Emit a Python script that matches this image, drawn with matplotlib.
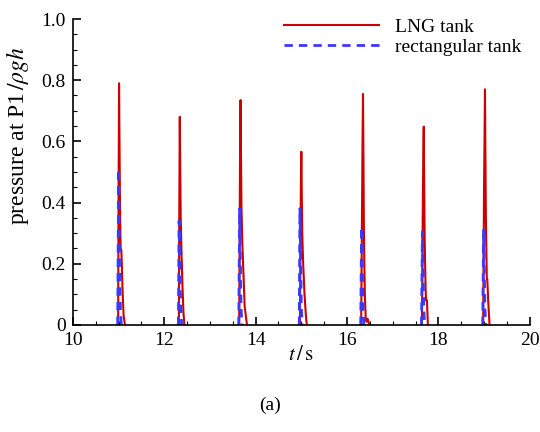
import numpy as np
import matplotlib
matplotlib.use("Agg")
import matplotlib.pyplot as plt
from matplotlib.ticker import MultipleLocator

plt.rcParams["font.family"] = ["Liberation Serif", "DejaVu Serif"]
plt.rcParams["mathtext.fontset"] = "stix"

# Impact pressure pulses at P1 (one list of times / values per slam event)
lng_times = [
    [10.99, 11.00, 11.005, 11.01, 11.02, 11.03, 11.045, 11.06, 11.07, 11.09, 11.11, 11.14],
    [12.32, 12.33, 12.335, 12.34, 12.35, 12.36, 12.38, 12.40, 12.42, 12.44],
    [13.64, 13.655, 13.66, 13.67, 13.68, 13.69, 13.71, 13.73, 13.76, 13.81],
    [14.97, 14.985, 14.99, 15.00, 15.01, 15.02, 15.04, 15.07, 15.10, 15.12],
    [16.31, 16.33, 16.34, 16.35, 16.36, 16.37, 16.39, 16.41, 16.43, 16.45, 16.48, 16.51],
    [17.64, 17.66, 17.67, 17.68, 17.69, 17.70, 17.72, 17.73, 17.75, 17.77],
    [18.98, 19.00, 19.01, 19.02, 19.03, 19.04, 19.06, 19.07, 19.09, 19.12],
]
lng_vals = [
    [0.0, 0.45, 0.58, 0.79, 0.60, 0.40, 0.25, 0.245, 0.20, 0.10, 0.03, 0.0],
    [0.0, 0.40, 0.55, 0.68, 0.50, 0.35, 0.22, 0.12, 0.04, 0.0],
    [0.0, 0.45, 0.60, 0.735, 0.55, 0.38, 0.26, 0.18, 0.06, 0.0],
    [0.0, 0.35, 0.45, 0.566, 0.42, 0.30, 0.20, 0.10, 0.03, 0.0],
    [0.0, 0.40, 0.60, 0.755, 0.55, 0.30, 0.10, 0.02, 0.01, 0.02, 0.005, 0.0],
    [0.0, 0.40, 0.55, 0.648, 0.45, 0.28, 0.12, 0.08, 0.08, 0.0],
    [0.0, 0.45, 0.60, 0.77, 0.55, 0.35, 0.15, 0.15, 0.08, 0.0],
]

rect_times = [
    [10.98, 10.995, 11.00, 11.01, 11.02, 11.03, 11.04, 11.06],
    [12.31, 12.32, 12.325, 12.335, 12.345, 12.36, 12.38],
    [13.63, 13.645, 13.65, 13.66, 13.67, 13.68, 13.70],
    [14.955, 14.965, 14.97, 14.98, 14.99, 15.00, 15.02],
    [16.30, 16.315, 16.32, 16.33, 16.34, 16.35, 16.37],
    [17.63, 17.645, 17.65, 17.66, 17.67, 17.68, 17.70],
    [18.97, 18.985, 18.99, 19.00, 19.01, 19.02, 19.04],
]
rect_vals = [
    [0.0, 0.35, 0.51, 0.35, 0.20, 0.12, 0.05, 0.0],
    [0.0, 0.25, 0.34, 0.25, 0.15, 0.06, 0.0],
    [0.0, 0.28, 0.38, 0.27, 0.16, 0.06, 0.0],
    [0.0, 0.28, 0.38, 0.27, 0.16, 0.06, 0.0],
    [0.0, 0.25, 0.32, 0.24, 0.14, 0.05, 0.0],
    [0.0, 0.22, 0.305, 0.22, 0.13, 0.05, 0.0],
    [0.0, 0.22, 0.31, 0.22, 0.13, 0.05, 0.0],
]


def join(times, vals):
    t_all, p_all = [], []
    for t, p in zip(times, vals):
        t_all += list(t) + [np.nan]
        p_all += list(p) + [np.nan]
    return np.array(t_all), np.array(p_all)


fig = plt.figure(figsize=(5.4, 4.32), dpi=100)
ax = fig.add_axes([0.135, 0.248, 0.846, 0.708])

t_lng, p_lng = join(lng_times, lng_vals)
t_rect, p_rect = join(rect_times, rect_vals)

ax.plot(t_lng, p_lng, color="#cc0000", lw=1.5, label="LNG tank", zorder=2)
ax.plot(t_rect, p_rect, color="#3a3aff", lw=2.0, ls=(0, (3, 2.2)),
        label="rectangular tank", zorder=3)

ax.set_xlim(10, 20)
ax.set_ylim(0, 1.0)
ax.xaxis.set_major_locator(MultipleLocator(2))
ax.xaxis.set_minor_locator(MultipleLocator(0.5))
ax.yaxis.set_major_locator(MultipleLocator(0.2))
ax.yaxis.set_minor_locator(MultipleLocator(0.05))
ax.set_yticks([0, 0.2, 0.4, 0.6, 0.8, 1.0])
ax.set_yticklabels(["0", "0.2", "0.4", "0.6", "0.8", "1.0"])

for side in ("top", "right"):
    ax.spines[side].set_visible(False)
for side in ("left", "bottom"):
    ax.spines[side].set_linewidth(1.2)
    ax.spines[side].set_zorder(5)

ax.tick_params(which="both", direction="in", labelsize=14, pad=5)
ax.tick_params(which="major", length=6, width=1.2)
ax.tick_params(which="minor", length=3, width=0.8)

ax.set_xlabel(r"$t\,/\,\mathrm{s}$", fontsize=15, labelpad=-2)
ax.set_ylabel(r"pressure at P1$\,/\rho g h$", fontsize=17)
ax.yaxis.set_label_coords(-0.092, 0.62)

ax.legend(loc="upper right", bbox_to_anchor=(1.02, 1.06), frameon=False,
          fontsize=14, handlelength=4.9, handletextpad=0.8, labelspacing=0.15)

fig.text(0.5, 0.062, "(a)", ha="center", va="center", fontsize=14)

fig.savefig("out.png", dpi=100)
